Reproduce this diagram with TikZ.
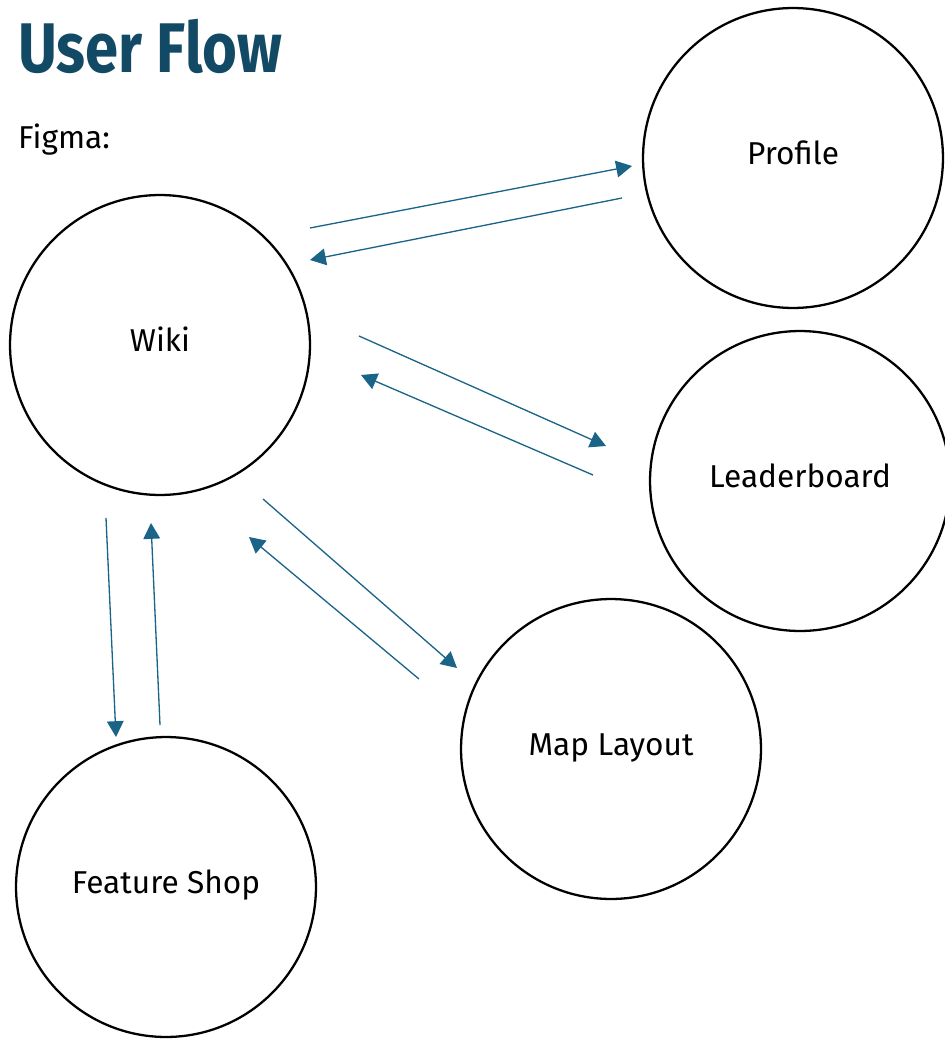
\documentclass[tikz,border=0pt]{standalone}
\usepackage{fontspec}
\setmainfont{Fira Sans}
\usetikzlibrary{arrows.meta}

\definecolor{titleblue}{HTML}{124A66}
\definecolor{flowblue}{HTML}{1A6488}

\tikzset{
    page/.style={circle, draw=black, line width=1.3pt, minimum size=6cm, inner sep=0pt, text height=13pt, text depth=5.2pt, font=\fontsize{18}{20}\selectfont},
    flow/.style={draw=flowblue, line width=0.75pt, -{Triangle[length=9pt, width=9.5pt]}}
}

\begin{document}
\begin{tikzpicture}[x=0.02cm, y=-0.02cm]
    \useasboundingbox (0,0) rectangle (944,1041);

    \node[anchor=base west, text=titleblue, font=\fontsize{40}{44}\bfseries] (title) at (12,72) {\scalebox{0.85}[1]{User Flow}};
    \node[anchor=base west, font=\fontsize{18}{20}\selectfont] (figma) at (12,148) {Figma:};

    \node[page] (wiki) at (160,345) {Wiki};
    \node[page] (profile) at (793,158) {Profile};
    \node[page] (leaderboard) at (800,481) {Leaderboard};
    \node[page] (map) at (611,749) {Map Layout};
    \node[page] (shop) at (166,887) {Feature Shop};

    % arrow ends
    \coordinate (wp1) at (310,228);  \coordinate (wp2) at (632,166);
    \coordinate (pw1) at (622,198);  \coordinate (pw2) at (310,260);
    \coordinate (wl1) at (359,336);  \coordinate (wl2) at (606,446);
    \coordinate (lw1) at (593,475);  \coordinate (lw2) at (361,375);
    \coordinate (wm1) at (263,499);  \coordinate (wm2) at (457,668);
    \coordinate (mw1) at (419,679);  \coordinate (mw2) at (249,537);
    \coordinate (ws1) at (106,518);  \coordinate (ws2) at (116,737);
    \coordinate (sw1) at (160,725);  \coordinate (sw2) at (151,523);

    \draw[flow] (wp1) -- (wp2);
    \draw[flow] (pw1) -- (pw2);
    \draw[flow] (wl1) -- (wl2);
    \draw[flow] (lw1) -- (lw2);
    \draw[flow] (wm1) -- (wm2);
    \draw[flow] (mw1) -- (mw2);
    \draw[flow] (ws1) -- (ws2);
    \draw[flow] (sw1) -- (sw2);

\end{tikzpicture}
\end{document}
